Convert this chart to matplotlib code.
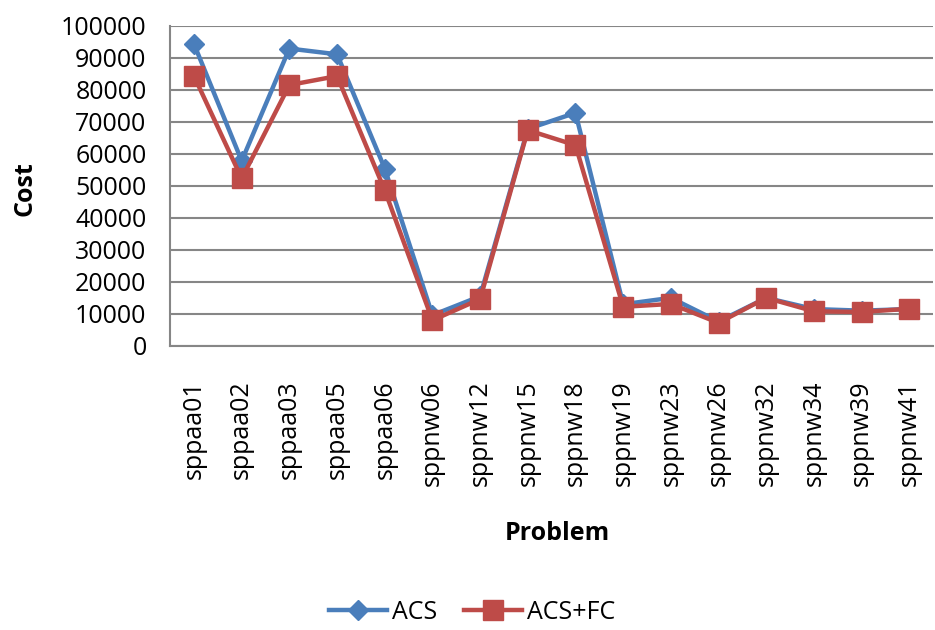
import numpy as np
import matplotlib
matplotlib.use("Agg")
import matplotlib.pyplot as plt

# problem instances
problems = ["sppaa01", "sppaa02", "sppaa03", "sppaa05", "sppaa06", "sppnw06",
            "sppnw12", "sppnw15", "sppnw18", "sppnw19", "sppnw23", "sppnw26",
            "sppnw32", "sppnw34", "sppnw39", "sppnw41"]
# cost values
acs = [94300, 57800, 92900, 91100, 55400, 9600,
       15500, 67800, 72800, 13000, 15000, 7600,
       15000, 11500, 11000, 11500]
acs_fc = [84300, 52300, 81500, 84300, 48600, 8000,
          14600, 67400, 62700, 12200, 13100, 7200,
          15000, 10800, 10600, 11600]
yticks = np.arange(0, 100001, 10000)

plt.rcParams['font.family'] = ['Open Sans', 'DejaVu Sans']
fig = plt.figure(figsize=(9.35, 6.3), dpi=100)
ax = fig.add_axes([0.182, 0.451, 0.816, 0.508])

x = np.arange(len(problems))
ax.plot(x, acs, color="#4A7EBB", lw=3.2, marker="D", ms=10, label="ACS", zorder=3)
ax.plot(x, acs_fc, color="#BE4B48", lw=3.2, marker="s", ms=14, label="ACS+FC", zorder=4)

ax.set_xlim(-0.5, len(problems) - 0.5)
ax.set_ylim(0, 100000)
ax.set_yticks(yticks)
ax.set_yticklabels([str(v) for v in yticks], fontsize=18)
ax.set_xticks(x)
ax.set_xticklabels(problems, rotation=90, fontsize=18)
ax.tick_params(axis="x", length=0, pad=25)
ax.tick_params(axis="y", length=0, pad=17)
ax.grid(axis="y", color="#868686", lw=1.5)
ax.set_axisbelow(True)
for s in ["top", "right"]:
    ax.spines[s].set_visible(False)
for s in ["left", "bottom"]:
    ax.spines[s].set_color("#868686")
    ax.spines[s].set_linewidth(1.5)

fig.text(0.027, 0.70, "Cost", fontsize=18, fontweight="bold", rotation=90,
         ha="center", va="center")
fig.text(0.596, 0.153, "Problem", fontsize=18, fontweight="bold", ha="center", va="center")

fig.legend(loc="center", bbox_to_anchor=(0.505, 0.028), ncol=2, frameon=False,
           fontsize=18, handlelength=2.3, columnspacing=1.1, handletextpad=0.2)

fig.savefig("out.png", dpi=100)
